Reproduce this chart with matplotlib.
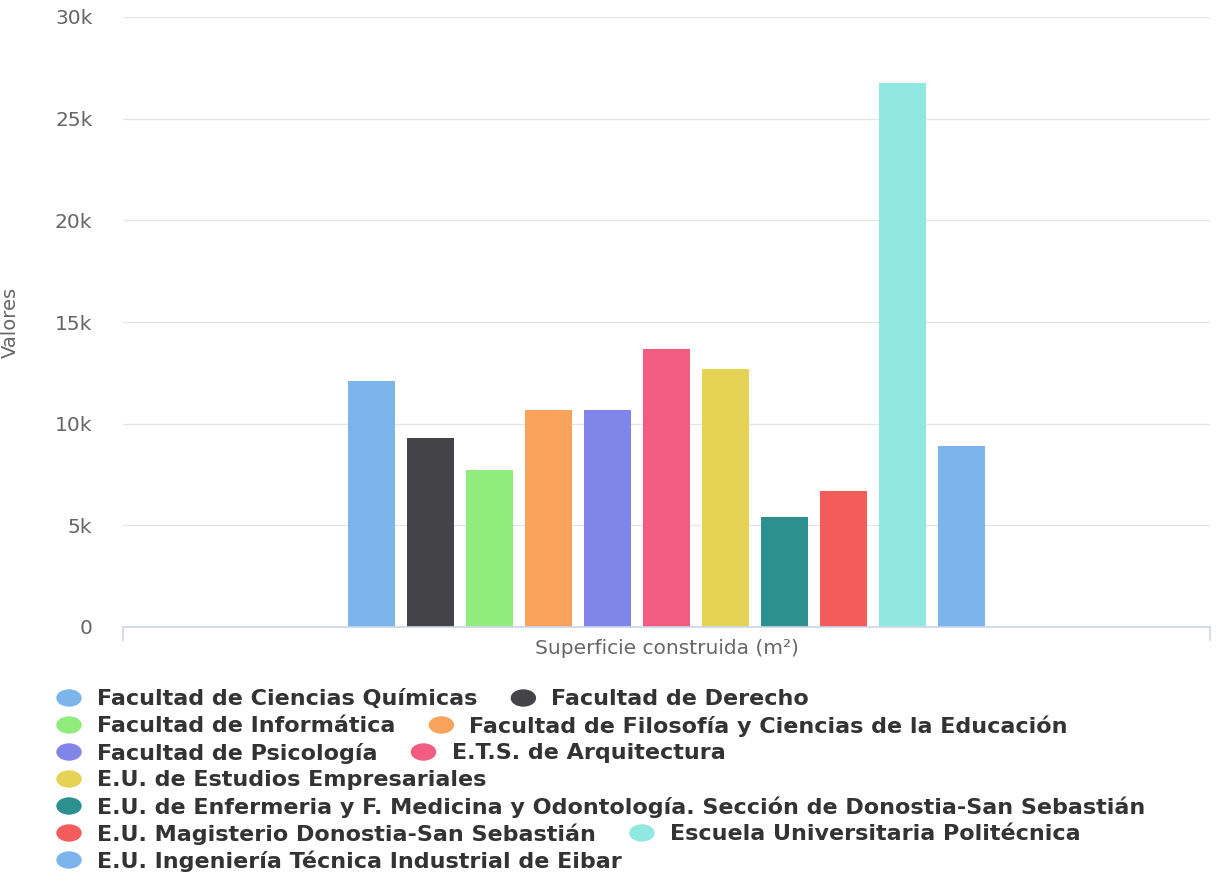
import numpy as np
import matplotlib.pyplot as plt
from matplotlib.patches import Ellipse
from matplotlib.ticker import FuncFormatter

# centros y superficie construida (m2)
centros = [
    'Facultad de Ciencias Químicas',
    'Facultad de Derecho',
    'Facultad de Informática',
    'Facultad de Filosofía y Ciencias de la Educación',
    'Facultad de Psicología',
    'E.T.S. de Arquitectura',
    'E.U. de Estudios Empresariales',
    'E.U. de Enfermeria y F. Medicina y Odontología. Sección de Donostia-San Sebastián',
    'E.U. Magisterio Donostia-San Sebastián',
    'Escuela Universitaria Politécnica',
    'E.U. Ingeniería Técnica Industrial de Eibar',
]
superficie = [12100, 9280, 7720, 10670, 10670, 13660, 12690, 5430, 6690, 26760, 8900]
colores = ['#7cb5ec', '#434348', '#90ed7d', '#f7a35c', '#8085e9', '#f15c80',
           '#e4d354', '#2b908f', '#f45b5b', '#91e8e1', '#7cb5ec']
categoria = 'Superficie construida (m²)'
titulo_y = 'Valores'

# elementos por fila en la leyenda
filas_leyenda = [2, 2, 2, 1, 1, 2, 1]

W, H = 1217, 873
fig = plt.figure(figsize=(W / 100, H / 100), dpi=100)
ax = fig.add_axes([123 / W, 1 - 627 / H, (1210 - 123) / W, (627 - 17) / H])

n = len(superficie)
paso = 0.0543
ancho = 0.0432
for i in range(n):
    ax.bar((i - (n - 1) / 2) * paso, superficie[i], ancho, color=colores[i],
           label=centros[i], zorder=2)

ax.set_xlim(-0.5, 0.5)
ax.set_ylim(0, 30000)
ax.set_yticks(np.arange(0, 30001, 5000))
ax.yaxis.set_major_formatter(FuncFormatter(lambda v, p: '0' if v == 0 else '%dk' % (v / 1000)))
ax.grid(axis='y', color='#e6e6e6', lw=1, zorder=0)
ax.tick_params(axis='y', length=0, pad=22, labelsize=14.5, labelcolor='#666666')

for s in ['left', 'right', 'top']:
    ax.spines[s].set_visible(False)
ax.spines['bottom'].set_color('#ccd6eb')
ax.spines['bottom'].set_linewidth(1.2)
ax.spines['bottom'].set_zorder(3)

ax.set_xticks([-0.5, 0.5], labels=['', ''])
ax.tick_params(axis='x', which='major', length=10, width=1.2, color='#ccd6eb')
ax.set_xticks([0], labels=[categoria], minor=True)
ax.tick_params(axis='x', which='minor', length=0, pad=9, labelsize=14.5, labelcolor='#666666')

ax.set_ylabel(titulo_y, color='#666666', fontsize=14,
              family=['Liberation Sans Narrow', 'DejaVu Sans'])
ax.yaxis.set_label_coords(-0.0948, 0.5)

# leyenda a mano, en filas como el original
fig.canvas.draw()
r = fig.canvas.get_renderer()
k = 0
y = 698
for fila in filas_leyenda:
    x = 57
    for j in range(fila):
        fig.add_artist(Ellipse(((x + 12) / W, 1 - y / H), 24 / W, 16 / H,
                               transform=fig.transFigure, color=colores[k]))
        t = fig.text((x + 40) / W, 1 - (y + 1) / H, centros[k], va='center', ha='left',
                     fontsize=16, fontweight='bold', color='#333333')
        x = x + 40 + t.get_window_extent(r).width + 34
        k += 1
    y += 27

fig.savefig('out.png', dpi=100, facecolor='white')
